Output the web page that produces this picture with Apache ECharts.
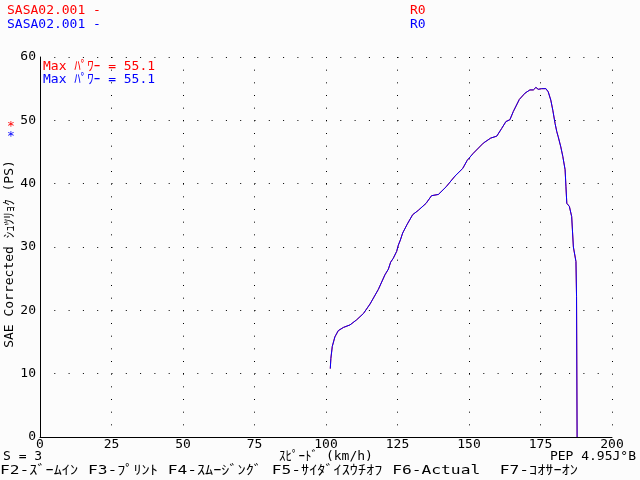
<!DOCTYPE html>
<html>
<head>
<meta charset="utf-8">
<script src="https://cdn.jsdelivr.net/npm/echarts@6/dist/echarts.min.js"></script>
<style>html,body{margin:0;padding:0;background:#fcfcfc}#c{width:640px;height:480px}</style>
</head>
<body>
<div id="c"></div>
<script>
var speed = [101.5,101.7,102.2,103.1,104.3,106.1,108.4,110.7,113.1,115.4,
  118.3,120.6,121.8,122.6,123.5,124.7,125.3,126.0,126.8,128.4,
  130.3,132.3,135.0,136.9,139.3,142.0,145.1,147.8,149.4,151.5,
  155.0,157.6,159.7,161.4,162.9,164.3,165.5,167.6,169.6,171.3,
  172.5,173.4,174.2,175.4,176.9,177.7,178.6,179.3,180.1,180.7,
  181.2,182.1,182.8,183.6,183.9,184.2,185.1,185.9,186.5,187.1,
  187.4,187.6,187.8];
var power = [10.8,12.4,14.3,15.8,16.8,17.3,17.7,18.5,19.5,21.0,
  23.3,25.6,26.5,27.6,28.2,29.3,30.3,31.1,32.2,33.6,
  35.1,35.8,36.9,38.1,38.3,39.5,41.2,42.4,43.7,44.8,
  46.4,47.2,47.5,48.7,49.8,50.1,51.4,53.3,54.3,54.8,
  54.8,55.2,54.9,55.0,55.0,54.5,53.2,51.6,49.5,48.2,
  47.4,45.8,44.3,42.2,39.5,36.9,36.4,34.8,30.0,29.8,
  27.7,22.2,0];
var xTicks = {min:0, max:200, interval:25};
var yTicks = {min:0, max:60, interval:10};
var fileName = 'SASA02.001 -';
var runName = 'R0';
var maxLabel = 'Max ﾊﾟﾜｰ = 55.1';
var yTitle = 'SAE Corrected ｼｭﾂﾘｮｸ (PS)';
var xTitle = 'ｽﾋﾟｰﾄﾞ (km/h)';
var smoothLabel = 'S = 3';
var pepLabel = 'PEP 4.95J°B';
var keysLabel = 'F2-ｽﾞｰﾑｲﾝ F3-ﾌﾟﾘﾝﾄ F4-ｽﾑｰｼﾞﾝｸﾞ F5-ｻｲﾀﾞｲｽｳﾁｵﾌ F6-Actual  F7-ｺｵｻｰｵﾝ';

var FONT = '"DejaVu Sans Mono", "Noto Sans CJK JP", monospace';
var RED = '#ff0000', BLUE = '#0000ff';
var pts = speed.map(function(s,i){return [s, power[i]];});

function txt(x,y,t,color,align,sx,rot){
  var el = {type:'text', x:x, y:y, style:{text:t, fill:color, font:'13px '+FONT,
    textAlign:align||'left', textVerticalAlign:'middle'}};
  if (sx) { el.scaleX = sx; el.originX = 0; el.originY = 0; }
  if (rot) { el.rotation = rot; }
  return el;
}

var chart = echarts.init(document.getElementById('c'), null, {renderer:'canvas'});
chart.setOption({
  backgroundColor:'#fcfcfc',
  animation:false,
  grid:{left:40, right:28, top:57, bottom:43, containLabel:false, outerBoundsMode:'none'},
  xAxis:{type:'value', min:xTicks.min, max:xTicks.max, interval:xTicks.interval,
    axisLine:{show:true, lineStyle:{color:'#000', width:1}},
    axisTick:{show:false},
    axisLabel:{color:'#000', fontFamily:FONT, fontSize:13, margin:1},
    splitLine:{show:true, lineStyle:{color:'#000', width:1, type:[1,11.667]}}},
  yAxis:{type:'value', min:yTicks.min, max:yTicks.max, interval:yTicks.interval,
    axisLine:{show:true, lineStyle:{color:'#000', width:1}},
    axisTick:{show:false},
    axisLabel:{color:'#000', fontFamily:FONT, fontSize:13, margin:4},
    splitLine:{show:true, lineStyle:{color:'#000', width:1, type:[1,13.3]}}},
  series:[
    {type:'line', data:pts, showSymbol:false, lineStyle:{color:RED, width:1}, itemStyle:{color:RED}, z:2},
    {type:'line', data:pts, showSymbol:false, lineStyle:{color:BLUE, width:1}, itemStyle:{color:BLUE}, z:3}
  ],
  graphic:[
    txt(7,11,fileName,RED), txt(7,25,fileName,BLUE),
    txt(410,11,runName,RED), txt(410,25,runName,BLUE),
    txt(43,67,maxLabel,RED), txt(43,80,maxLabel,BLUE),
    txt(7,127,'*',RED), txt(7,137,'*',BLUE),
    txt(10,254,yTitle,'#000','center',null,Math.PI/2),
    txt(326,457,xTitle,'#000','center'),
    txt(3,457,smoothLabel,'#000'), txt(636,457,pepLabel,'#000','right'),
    txt(0,471,keysLabel,'#000','left',1.25)
  ]
});
</script>
</body>
</html>
